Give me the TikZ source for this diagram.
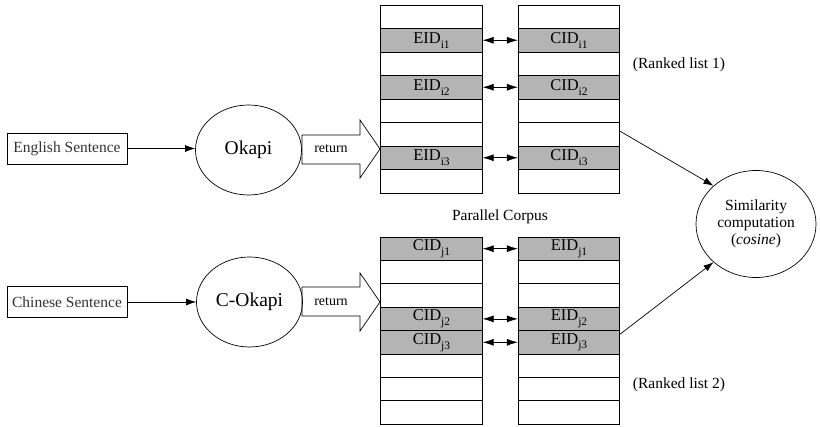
\documentclass[tikz,border=0pt]{standalone}
\usepackage{fontspec}
\setmainfont{Liberation Serif}
\usetikzlibrary{arrows.meta,shapes.geometric}

\definecolor{cellgray}{RGB}{180,180,180}
\newcommand{\idsub}[1]{\raisebox{-0.3em}{\fontsize{11.5}{12}\selectfont #1}}

\tikzset{
    cell/.style={draw, line width=0.8pt, minimum width=101.5pt, minimum height=23.5pt, inner sep=0pt, font=\fontsize{16.5}{18}\selectfont},
    hit/.style={cell, fill=cellgray},
    sentbox/.style={draw, line width=0.7pt, minimum width=120pt, minimum height=31pt, inner sep=0pt, text=black!80},
    engine/.style={draw, ellipse, line width=0.7pt, minimum width=106pt, minimum height=90pt, inner sep=0pt, font=\fontsize{19.5}{22}\selectfont},
    link/.style={-{Latex[length=10pt,width=7pt]}, line width=0.7pt},
    pair/.style={{Latex[length=11pt,width=7pt]}-{Latex[length=11pt,width=7pt]}, line width=0.7pt},
}

\begin{document}
\begin{tikzpicture}[x=1pt, y=-1pt, font=\fontsize{15.5}{17}\selectfont]
    \useasboundingbox (0,0) rectangle (820,427);

    % ranked list 1 (top)
    \foreach \k in {1,...,8} {
        \node [cell] (tl\k) at (431.5,{5+23.5*(\k-0.5)}) {};
        \node [cell] (tr\k) at (569,{5+23.5*(\k-0.5)}) {};
    }
    \foreach \k/\n in {2/1,4/2,7/3} {
        \node [hit] (ei\n) at (431.5,{5+23.5*(\k-0.5)}) {EID\idsub{i\n}};
        \node [hit] (ci\n) at (569,{5+23.5*(\k-0.5)}) {CID\idsub{i\n}};
        \draw [pair] (ei\n) -- (ci\n);
    }

    % ranked list 2 (bottom)
    \foreach \k in {1,...,8} {
        \node [cell] (bl\k) at (431.5,{237+23.4*(\k-0.5)}) {};
        \node [cell] (br\k) at (569,{237+23.4*(\k-0.5)}) {};
    }
    \foreach \k/\n in {1/1,4/2,5/3} {
        \node [hit] (cj\n) at (431.5,{237+23.4*(\k-0.5)}) {CID\idsub{j\n}};
        \node [hit] (ej\n) at (569,{237+23.4*(\k-0.5)}) {EID\idsub{j\n}};
        \draw [pair] (cj\n) -- (ej\n);
    }

    \node (corpus) at (500,217) {Parallel Corpus};
    \node (rank1) at (679,65) {(Ranked list 1)};
    \node (rank2) at (679,385) {(Ranked list 2)};

    % queries and retrieval
    \node [sentbox] (eng) at (67,148.5) {English Sentence};
    \node [sentbox] (chi) at (67,302) {Chinese Sentence};
    \node [engine] (okapi) at (248.5,150) {Okapi};
    \node [engine] (cokapi) at (249.5,302) {C-Okapi};

    \draw [link] (eng) -- (okapi.west |- eng);
    \draw [link] (chi) -- (cokapi.west |- chi);

    \begin{scope}[line width=0.7pt, font=\fontsize{14}{16}\selectfont]
    \draw (302,135) -- (360,135) -- (360,120) -- (380,149) -- (360,178) -- (360,164) -- (302,164) -- cycle;
    \node (ret1) at (331,149) {return};
    \draw (302,287) -- (360,287) -- (360,273) -- (380,302) -- (360,331) -- (360,316) -- (302,316) -- cycle;
    \node (ret2) at (331,302) {return};
    \end{scope}

    % similarity
    \node [draw, ellipse, line width=0.7pt, minimum width=120pt, minimum height=107pt, align=center] (sim) at (756,224)
        {Similarity\\computation\\(\textit{cosine})};
    \draw [link] ([yshift=3pt]tr6.east) -- (sim.138);
    \draw [link] ([yshift=-4pt]ej3.north east) -- (sim.222);
\end{tikzpicture}
\end{document}
